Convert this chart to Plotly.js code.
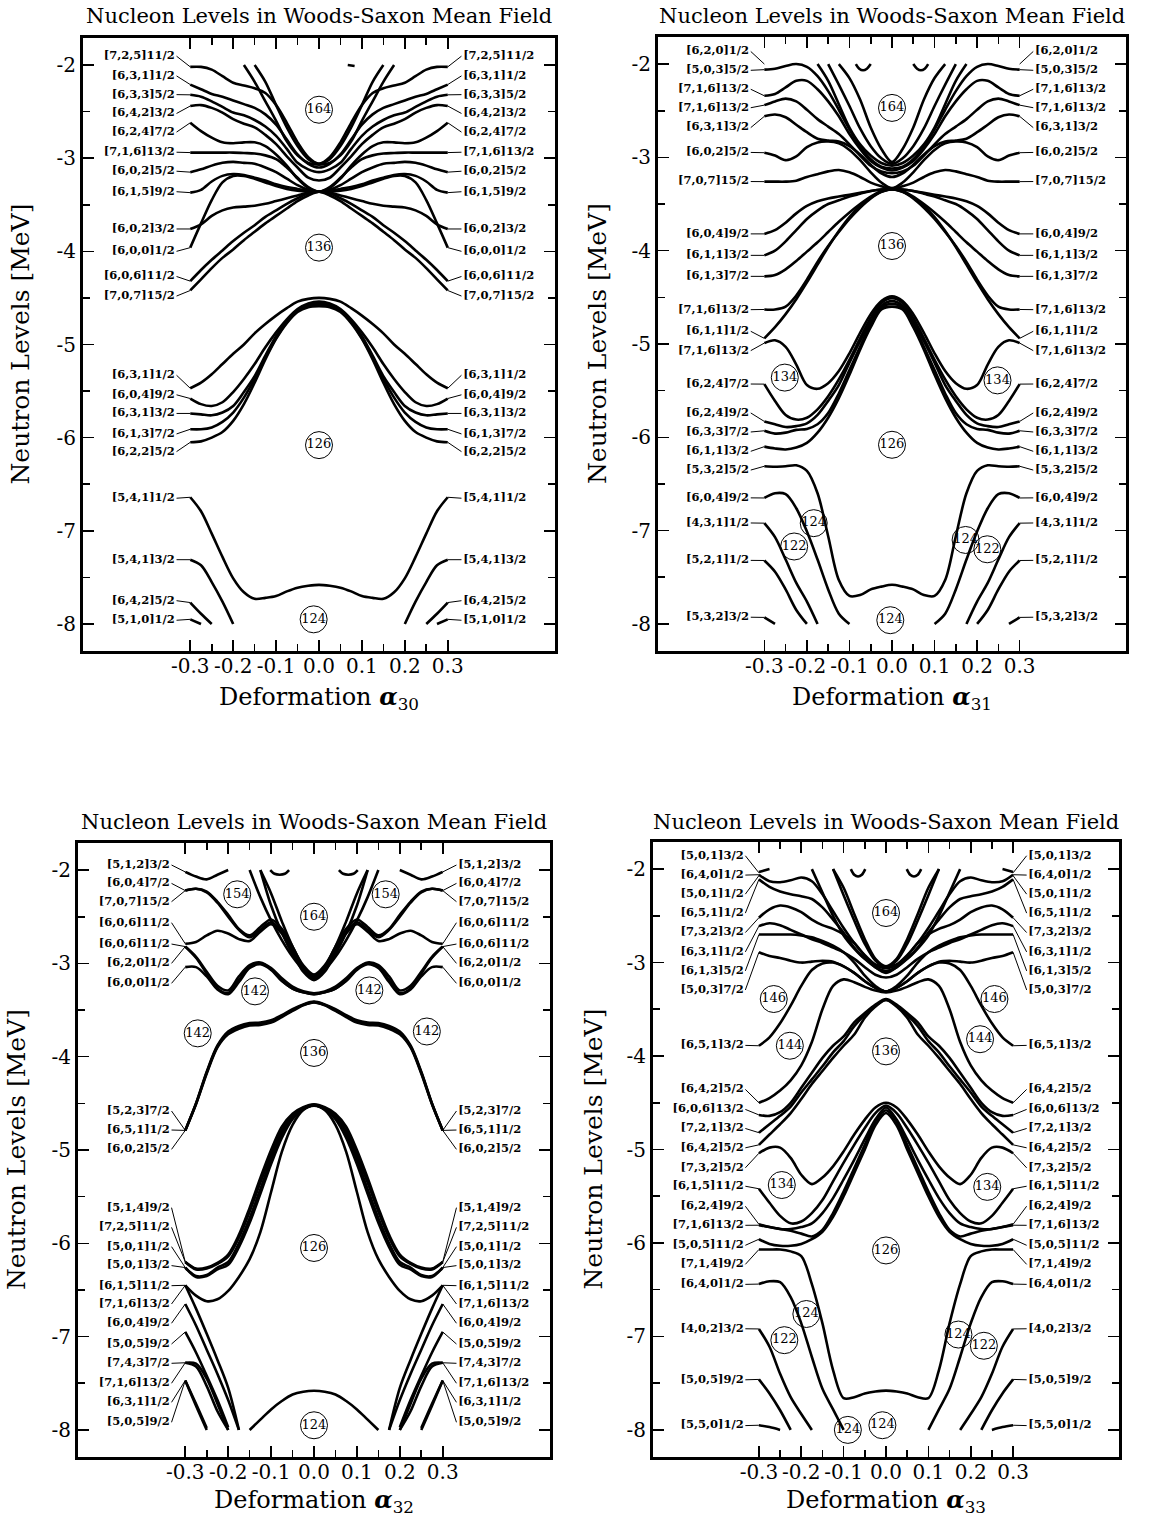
<!DOCTYPE html>
<html>
<head>
<meta charset="utf-8">
<script src="https://cdn.plot.ly/plotly-3.0.1.min.js"></script>
<style>
html,body{margin:0;padding:0;background:#fff;}
#chart{width:1150px;height:1519px;}
</style>
</head>
<body>
<div id="chart"></div>
<script>
// Single-particle neutron levels vs. octupole deformation.
// Levels are even in alpha, so each level is tabulated on the half grid [-0.3 .. 0]
// and reflected to positive alpha when drawn.
const GRID = [-0.3,-0.275,-0.25,-0.225,-0.2,-0.175,-0.15,-0.125,-0.1,-0.075,-0.05,-0.025,0];
const _ = null;

// ---------- alpha_30 ----------
const a30Levels = [
  [-2.02,-2.02,-2.05,-2.12,-2.19,-2.22,-2.25,-2.30,-2.43,-2.62,-2.83,-2.99,-3.06],
  [-2.21,-2.26,-2.31,-2.34,-2.38,-2.42,-2.46,-2.53,-2.64,-2.80,-2.96,-3.06,-3.10],
  [-2.32,-2.34,-2.39,-2.45,-2.51,-2.54,-2.59,-2.66,-2.76,-2.90,-3.05,-3.12,-3.15],
  [-2.44,-2.43,-2.46,-2.51,-2.58,-2.63,-2.67,-2.75,-2.85,-2.98,-3.10,-3.21,-3.24],
  [-2.62,-2.71,-2.78,-2.83,-2.84,-2.83,-2.83,-2.87,-2.96,-3.08,-3.22,-3.32,-3.36],
  [-2.94,-2.94,-2.94,-2.94,-2.94,-2.945,-2.95,-2.97,-3.01,-3.10,-3.21,-3.31,-3.36],
  [-3.15,-3.12,-3.08,-3.05,-3.04,-3.05,-3.06,-3.10,-3.15,-3.22,-3.29,-3.34,-3.36],
  [-3.37,-3.34,-3.25,-3.19,-3.17,-3.18,-3.21,-3.24,-3.28,-3.31,-3.33,-3.35,-3.36],
  [-3.76,-3.71,-3.62,-3.56,-3.53,-3.52,-3.51,-3.49,-3.46,-3.43,-3.40,-3.37,-3.36],
  [-3.96,-3.70,-3.45,-3.26,-3.19,-3.19,-3.22,-3.26,-3.30,-3.33,-3.35,-3.36,-3.36],
  [-4.32,-4.20,-4.09,-3.99,-3.89,-3.80,-3.72,-3.63,-3.56,-3.49,-3.43,-3.38,-3.36],
  [-4.42,-4.30,-4.18,-4.07,-3.98,-3.88,-3.79,-3.70,-3.62,-3.54,-3.46,-3.40,-3.36],
  [_,_,_,_,_,-2.00,-2.18,-2.39,-2.60,-2.82,-2.97,-3.05,-3.07],
  [_,_,_,_,_,_,-2.00,-2.18,-2.43,-2.67,-2.87,-3.01,-3.06],
  [-5.47,-5.41,-5.32,-5.21,-5.10,-5.00,-4.88,-4.78,-4.69,-4.61,-4.54,-4.51,-4.50],
  [-5.58,-5.64,-5.66,-5.62,-5.51,-5.37,-5.21,-5.03,-4.87,-4.73,-4.62,-4.56,-4.54],
  [-5.74,-5.75,-5.76,-5.73,-5.66,-5.51,-5.34,-5.12,-4.91,-4.75,-4.63,-4.57,-4.56],
  [-5.91,-5.91,-5.89,-5.83,-5.73,-5.57,-5.37,-5.14,-4.93,-4.76,-4.64,-4.59,-4.57],
  [-6.05,-6.04,-6.00,-5.94,-5.82,-5.64,-5.41,-5.16,-4.94,-4.77,-4.65,-4.60,-4.59],
  [-6.64,-6.79,-7.03,-7.28,-7.51,-7.66,-7.73,-7.72,-7.70,-7.65,-7.61,-7.59,-7.58],
  [-7.31,-7.37,-7.55,-7.76,-8.00,_,_,_,_,_,_,_,_],
  [-7.77,-7.89,-8.00,_,_,_,_,_,_,_,_,_,_],
  [-7.95,-8.00,_,_,_,_,_,_,_,_,_,_,_]
];
const a30Names = ['[7,2,5]11/2','[6,3,1]1/2','[6,3,3]5/2','[6,4,2]3/2','[6,2,4]7/2','[7,1,6]13/2','[6,0,2]5/2','[6,1,5]9/2','[6,0,2]3/2','[6,0,0]1/2','[6,0,6]11/2','[7,0,7]15/2','[6,3,1]1/2','[6,0,4]9/2','[6,3,1]3/2','[6,1,3]7/2','[6,2,2]5/2','[5,4,1]1/2','[5,4,1]3/2','[6,4,2]5/2','[5,1,0]1/2'];
const a30NameY = [-1.905,-2.117,-2.318,-2.52,-2.72,-2.936,-3.14,-3.36,-3.76,-4.0,-4.27,-4.48,-5.33,-5.54,-5.74,-5.96,-6.15,-6.65,-7.31,-7.75,-7.96];
const a30EndY  = [-2.02,-2.21,-2.32,-2.44,-2.62,-2.94,-3.15,-3.37,-3.76,-3.96,-4.32,-4.42,-5.47,-5.58,-5.74,-5.91,-6.05,-6.64,-7.31,-7.77,-7.95];
const a30ShellN = ['164','136','126','124'];
const a30ShellX = [0,0,0,-0.0125];
const a30ShellY = [-2.48,-3.96,-6.08,-7.95];
const a30BitsX = [[0.067,0.075,0.083]];
const a30BitsY = [[-2.0,-2.005,-2.01]];

// ---------- alpha_31 ----------
const a31Levels = [
  [-2.06,-2.05,-2.02,-2.00,-2.03,-2.13,-2.29,-2.49,-2.70,-2.88,-3.02,-3.10,-3.12],
  [-2.34,-2.32,-2.25,-2.18,-2.18,-2.27,-2.40,-2.56,-2.75,-2.91,-3.04,-3.11,-3.14],
  [-2.44,-2.40,-2.37,-2.40,-2.49,-2.59,-2.67,-2.75,-2.86,-2.98,-3.09,-3.15,-3.17],
  [-2.56,-2.54,-2.57,-2.65,-2.73,-2.80,-2.82,-2.83,-2.88,-2.97,-3.08,-3.17,-3.21],
  [-2.95,-2.98,-3.03,-2.99,-2.89,-2.84,-2.83,-2.85,-2.92,-3.03,-3.16,-3.27,-3.33],
  [-3.26,-3.26,-3.26,-3.25,-3.21,-3.18,-3.15,-3.135,-3.16,-3.21,-3.27,-3.31,-3.34],
  [-3.82,-3.78,-3.70,-3.60,-3.52,-3.47,-3.44,-3.42,-3.40,-3.38,-3.36,-3.345,-3.34],
  [-4.05,-4.00,-3.90,-3.78,-3.66,-3.57,-3.50,-3.46,-3.42,-3.39,-3.36,-3.345,-3.34],
  [-4.275,-4.26,-4.20,-4.11,-4.01,-3.91,-3.80,-3.69,-3.59,-3.50,-3.42,-3.36,-3.34],
  [-4.63,-4.63,-4.60,-4.48,-4.31,-4.12,-3.95,-3.80,-3.66,-3.54,-3.44,-3.37,-3.34],
  [-4.94,-4.82,-4.68,-4.52,-4.34,-4.15,-3.96,-3.79,-3.64,-3.52,-3.43,-3.37,-3.34],
  [_,_,_,_,_,-2.00,-2.18,-2.43,-2.68,-2.86,-2.98,-3.06,-3.09],
  [_,_,_,_,_,_,-2.00,-2.22,-2.45,-2.69,-2.88,-3.01,-3.07],
  [_,_,_,_,_,_,_,-2.00,-2.15,-2.38,-2.68,-2.91,-3.05],
  [-4.99,-4.96,-5.03,-5.22,-5.44,-5.48,-5.42,-5.29,-5.10,-4.88,-4.68,-4.54,-4.49],
  [-5.43,-5.61,-5.76,-5.81,-5.79,-5.70,-5.56,-5.38,-5.17,-4.94,-4.72,-4.56,-4.51],
  [-5.83,-5.86,-5.89,-5.88,-5.85,-5.76,-5.61,-5.44,-5.20,-4.97,-4.76,-4.59,-4.54],
  [-5.93,-5.96,-5.95,-5.92,-5.91,-5.86,-5.74,-5.53,-5.28,-5.03,-4.79,-4.61,-4.57],
  [-6.10,-6.12,-6.13,-6.11,-6.06,-5.95,-5.79,-5.58,-5.33,-5.06,-4.82,-4.63,-4.60],
  [-6.31,-6.315,-6.31,-6.30,-6.36,-6.60,-7.06,-7.53,-7.70,-7.69,-7.63,-7.60,-7.58],
  [-6.65,-6.60,-6.61,-6.76,-7.01,-7.31,-7.63,-7.89,-8.00,_,_,_,_],
  [-6.92,-7.07,-7.31,-7.56,-7.76,-8.00,_,_,_,_,_,_,_],
  [-7.32,-7.44,-7.63,-7.85,-8.00,_,_,_,_,_,_,_,_],
  [-7.93,-8.00,_,_,_,_,_,_,_,_,_,_,_]
];
const a31Names = ['[6,2,0]1/2','[5,0,3]5/2','[7,1,6]13/2','[7,1,6]13/2','[6,3,1]3/2','[6,0,2]5/2','[7,0,7]15/2','[6,0,4]9/2','[6,1,1]3/2','[6,1,3]7/2','[7,1,6]13/2','[6,1,1]1/2','[7,1,6]13/2','[6,2,4]7/2','[6,2,4]9/2','[6,3,3]7/2','[6,1,1]3/2','[5,3,2]5/2','[6,0,4]9/2','[4,3,1]1/2','[5,2,1]1/2','[5,3,2]3/2'];
const a31NameY = [-1.865,-2.067,-2.27,-2.468,-2.681,-2.947,-3.259,-3.82,-4.05,-4.275,-4.632,-4.864,-5.071,-5.429,-5.739,-5.943,-6.15,-6.351,-6.649,-6.918,-7.319,-7.928];
const a31EndY  = [-2.0,-2.06,-2.34,-2.44,-2.56,-2.95,-3.26,-3.82,-4.05,-4.275,-4.63,-4.94,-4.99,-5.43,-5.83,-5.93,-6.10,-6.31,-6.65,-6.92,-7.32,-7.93];
const a31ShellN = ['164','136','134','134','126','124','122','124','122','124'];
const a31ShellX = [0,0,-0.252,0.248,0,-0.184,-0.23,0.173,0.224,-0.004];
const a31ShellY = [-2.47,-3.95,-5.36,-5.39,-6.08,-6.92,-7.17,-7.10,-7.20,-7.96];
const a31BitsX = [[-0.085,-0.077,-0.068,-0.059,-0.05],[0.05,0.059,0.068,0.077,0.085]];
const a31BitsY = [[-2.0,-2.05,-2.067,-2.05,-2.0],[-2.0,-2.05,-2.067,-2.05,-2.0]];

// ---------- alpha_32 ----------
const a32Levels = [
  [-2.02,-2.07,-2.10,-2.05,-2.00,_,_,_,_,_,_,_,_],
  [-2.22,-2.20,-2.23,-2.34,-2.48,-2.63,-2.70,-2.61,-2.53,-2.63,-2.82,-3.04,-3.16],
  [-2.22,-2.20,-2.24,-2.35,-2.50,-2.64,-2.72,-2.64,-2.56,-2.66,-2.86,-3.07,-3.17],
  [-2.79,-2.77,-2.70,-2.65,-2.68,-2.74,-2.76,-2.66,-2.58,-2.68,-2.88,-3.09,-3.18],
  [-2.82,-2.93,-3.09,-3.24,-3.29,-3.14,-3.02,-2.99,-3.05,-3.16,-3.25,-3.30,-3.32],
  [-2.82,-2.94,-3.11,-3.27,-3.32,-3.18,-3.04,-3.00,-3.06,-3.18,-3.27,-3.31,-3.33],
  [-3.04,-3.04,-3.14,-3.28,-3.33,-3.20,-3.05,-3.01,-3.07,-3.19,-3.27,-3.31,-3.33],
  [_,_,_,_,_,_,-2.00,-2.29,-2.54,-2.75,-2.93,-3.07,-3.14],
  [_,_,_,_,_,_,_,-2.00,-2.38,-2.67,-2.90,-3.05,-3.13],
  [_,_,_,_,_,_,_,-2.00,-2.25,-2.55,-2.82,-3.02,-3.12],
  [-4.79,-4.50,-4.16,-3.88,-3.73,-3.67,-3.64,-3.635,-3.61,-3.555,-3.49,-3.44,-3.41],
  [-4.79,-4.51,-4.18,-3.90,-3.76,-3.70,-3.665,-3.66,-3.635,-3.575,-3.51,-3.45,-3.42],
  [-4.79,-4.505,-4.17,-3.89,-3.745,-3.685,-3.65,-3.645,-3.62,-3.565,-3.50,-3.445,-3.415],
  [-6.20,-6.27,-6.26,-6.21,-6.12,-5.91,-5.62,-5.30,-5.00,-4.75,-4.61,-4.54,-4.51],
  [-6.20,-6.28,-6.27,-6.22,-6.14,-5.94,-5.66,-5.35,-5.05,-4.79,-4.63,-4.55,-4.515],
  [-6.26,-6.35,-6.34,-6.26,-6.20,-6.00,-5.73,-5.42,-5.10,-4.83,-4.65,-4.56,-4.52],
  [-6.26,-6.36,-6.35,-6.28,-6.23,-6.04,-5.78,-5.47,-5.15,-4.87,-4.67,-4.565,-4.52],
  [-6.45,-6.56,-6.62,-6.60,-6.51,-6.36,-6.17,-5.88,-5.45,-5.02,-4.73,-4.57,-4.525],
  [-6.45,-6.70,-6.97,-7.25,-7.55,-8.00,_,_,_,_,_,_,_],
  [-6.65,-6.88,-7.14,-7.40,-7.68,-8.00,_,_,_,_,_,_,_],
  [-6.95,-7.17,-7.42,-7.68,-7.97,_,_,_,_,_,_,_,_],
  [-7.28,-7.29,-7.45,-7.72,-8.00,_,_,_,_,_,_,_,_],
  [-7.28,-7.32,-7.53,-7.80,-8.00,_,_,_,_,_,_,_,_],
  [-7.47,-7.72,-7.98,_,_,_,_,_,_,_,_,_,_],
  [-7.47,-7.74,-8.00,_,_,_,_,_,_,_,_,_,_],
  [_,_,_,_,_,_,-8.00,-7.89,-7.78,-7.69,-7.62,-7.59,-7.58]
];
const a32Names = ['[5,1,2]3/2','[6,0,4]7/2','[7,0,7]15/2','[6,0,6]11/2','[6,0,6]11/2','[6,2,0]1/2','[6,0,0]1/2','[5,2,3]7/2','[6,5,1]1/2','[6,0,2]5/2','[5,1,4]9/2','[7,2,5]11/2','[5,0,1]1/2','[5,0,1]3/2','[6,1,5]11/2','[7,1,6]13/2','[6,0,4]9/2','[5,0,5]9/2','[7,4,3]7/2','[7,1,6]13/2','[6,3,1]1/2','[5,0,5]9/2'];
const a32NameY = [-1.946,-2.143,-2.339,-2.564,-2.793,-3.0,-3.214,-4.582,-4.786,-4.993,-5.618,-5.829,-6.036,-6.239,-6.454,-6.65,-6.857,-7.079,-7.286,-7.5,-7.704,-7.918];
const a32EndY  = [-2.02,-2.22,-2.22,-2.79,-2.82,-2.82,-3.04,-4.79,-4.79,-4.79,-6.20,-6.20,-6.26,-6.26,-6.45,-6.45,-6.65,-6.95,-7.28,-7.28,-7.47,-7.47];
const a32ShellN = ['154','154','164','142','142','142','142','136','126','124'];
const a32ShellX = [-0.179,0.167,0,-0.1375,0.129,-0.271,0.263,0,0,0];
const a32ShellY = [-2.26,-2.26,-2.5,-3.30,-3.29,-3.75,-3.73,-3.96,-6.05,-7.95];
const a32BitsX = [[-0.102,-0.092,-0.08,-0.068,-0.058],[0.058,0.068,0.08,0.092,0.102]];
const a32BitsY = [[-2.0,-2.04,-2.05,-2.04,-2.0],[-2.0,-2.04,-2.05,-2.04,-2.0]];

// ---------- alpha_33 ----------
const a33Levels = [
  [-2.03,-2.00,_,_,_,_,_,_,_,_,_,_,_],
  [-2.06,-2.13,-2.14,-2.12,-2.09,-2.13,-2.27,-2.45,-2.63,-2.79,-2.92,-3.02,-3.05],
  [-2.11,-2.19,-2.24,-2.27,-2.29,-2.32,-2.41,-2.54,-2.68,-2.84,-2.96,-3.05,-3.09],
  [-2.52,-2.43,-2.39,-2.41,-2.46,-2.54,-2.60,-2.64,-2.70,-2.79,-2.93,-3.05,-3.11],
  [-2.61,-2.58,-2.60,-2.65,-2.70,-2.75,-2.79,-2.84,-2.89,-2.96,-3.05,-3.13,-3.16],
  [-2.70,-2.70,-2.70,-2.70,-2.71,-2.73,-2.77,-2.82,-2.89,-3.00,-3.14,-3.25,-3.31],
  [-2.89,-2.93,-2.95,-2.98,-3.00,-2.99,-2.98,-2.99,-3.04,-3.11,-3.20,-3.27,-3.31],
  [-3.89,-3.80,-3.65,-3.46,-3.25,-3.08,-3.01,-3.00,-3.04,-3.11,-3.20,-3.27,-3.31],
  [-4.50,-4.45,-4.37,-4.26,-4.10,-3.85,-3.50,-3.25,-3.18,-3.21,-3.26,-3.30,-3.32],
  [_,_,_,_,_,-2.00,-2.25,-2.50,-2.71,-2.85,-2.96,-3.03,-3.06],
  [_,_,_,_,_,_,_,-2.00,-2.28,-2.55,-2.80,-2.98,-3.05],
  [_,_,_,_,_,_,_,-2.00,-2.20,-2.48,-2.75,-2.96,-3.04],
  [-4.63,-4.64,-4.60,-4.50,-4.34,-4.18,-4.02,-3.89,-3.79,-3.64,-3.54,-3.45,-3.39],
  [-4.82,-4.73,-4.64,-4.54,-4.39,-4.25,-4.11,-3.96,-3.84,-3.68,-3.56,-3.46,-3.40],
  [-4.95,-4.84,-4.73,-4.61,-4.46,-4.30,-4.16,-4.02,-3.89,-3.77,-3.59,-3.47,-3.40],
  [-5.04,-4.98,-4.98,-5.09,-5.27,-5.37,-5.30,-5.18,-5.02,-4.84,-4.68,-4.55,-4.50],
  [-5.42,-5.57,-5.71,-5.79,-5.77,-5.68,-5.54,-5.34,-5.14,-4.95,-4.77,-4.61,-4.53],
  [-5.80,-5.83,-5.85,-5.85,-5.83,-5.79,-5.68,-5.52,-5.32,-5.11,-4.89,-4.68,-4.55],
  [-5.81,-5.83,-5.85,-5.87,-5.90,-5.93,-5.86,-5.68,-5.45,-5.20,-4.95,-4.70,-4.58],
  [-5.96,-6.01,-6.03,-6.03,-6.01,-5.96,-5.88,-5.72,-5.50,-5.25,-5.00,-4.74,-4.61],
  [-6.07,-6.07,-6.07,-6.09,-6.14,-6.44,-6.86,-7.36,-7.66,-7.65,-7.61,-7.59,-7.58],
  [-6.44,-6.41,-6.42,-6.58,-6.86,-7.22,-7.56,-7.78,-8.00,_,_,_,_],
  [-6.92,-7.11,-7.40,-7.65,-7.83,-8.00,_,_,_,_,_,_,_],
  [-7.46,-7.61,-7.79,-8.00,_,_,_,_,_,_,_,_,_],
  [-7.95,-7.97,-8.00,_,_,_,_,_,_,_,_,_,_]
];
const a33Names = ['[5,0,1]3/2','[6,4,0]1/2','[5,0,1]1/2','[6,5,1]1/2','[7,3,2]3/2','[6,3,1]1/2','[6,1,3]5/2','[5,0,3]7/2','[6,5,1]3/2','[6,4,2]5/2','[6,0,6]13/2','[7,2,1]3/2','[6,4,2]5/2','[7,3,2]5/2','[6,1,5]11/2','[6,2,4]9/2','[7,1,6]13/2','[5,0,5]11/2','[7,1,4]9/2','[6,4,0]1/2','[4,0,2]3/2','[5,0,5]9/2','[5,5,0]1/2'];
const a33NameY = [-1.857,-2.064,-2.268,-2.471,-2.679,-2.886,-3.089,-3.293,-3.886,-4.357,-4.571,-4.775,-4.982,-5.196,-5.393,-5.607,-5.811,-6.025,-6.229,-6.443,-6.918,-7.464,-7.954];
const a33EndY  = [-2.04,-2.06,-2.07,-2.11,-2.52,-2.61,-2.70,-2.89,-3.89,-4.50,-4.63,-4.82,-4.95,-5.04,-5.42,-5.80,-5.81,-5.96,-6.07,-6.44,-6.92,-7.46,-7.95];
const a33ShellN = ['164','146','146','144','144','136','134','134','126','124','122','124','122','124','124'];
const a33ShellX = [0,-0.265,0.256,-0.227,0.222,0,-0.246,0.239,0,-0.188,-0.24,0.171,0.231,-0.09,-0.0085];
const a33ShellY = [-2.47,-3.39,-3.39,-3.89,-3.82,-3.95,-5.38,-5.40,-6.08,-6.76,-7.04,-6.98,-7.10,-8.0,-7.95];
const a33BitsX = [[-0.083,-0.075,-0.066,-0.057,-0.049],[0.049,0.057,0.066,0.075,0.083]];
const a33BitsY = [[-2.0,-2.06,-2.079,-2.06,-2.0],[-2.0,-2.06,-2.079,-2.06,-2.0]];

// axis ticks
const xTickVals = [-0.3,-0.2,-0.1,0,0.1,0.2,0.3];
const xTickText = ['-0.3','-0.2','-0.1','0.0','0.1','0.2','0.3'];
const xMinorVals = [-0.25,-0.15,-0.05,0.05,0.15,0.25];
const yTickVals = [-8,-7,-6,-5,-4,-3,-2];
const yTickText = ['-8','-7','-6','-5','-4','-3','-2'];
const yMinorVals = [-7.5,-6.5,-5.5,-4.5,-3.5,-2.5];

// ---------- drawing ----------
const W = 1150, H = 1519;
const SERIF = 'DejaVu Serif';
const INK = '#000000';
const LABEL_X = 0.336, LEAD_X = 0.332, EDGE_X = 0.3;

const panels = [
  {levels:a30Levels, names:a30Names, nameY:a30NameY, endY:a30EndY, shellN:a30ShellN, shellX:a30ShellX, shellY:a30ShellY, bitsX:a30BitsX, bitsY:a30BitsY, sub:'30', box:[83,555,38,651], titleY:16, xlabY:698, ylabX:20},
  {levels:a31Levels, names:a31Names, nameY:a31NameY, endY:a31EndY, shellN:a31ShellN, shellX:a31ShellX, shellY:a31ShellY, bitsX:a31BitsX, bitsY:a31BitsY, sub:'31', box:[658,1126,37,651], titleY:16, xlabY:698, ylabX:597},
  {levels:a32Levels, names:a32Names, nameY:a32NameY, endY:a32EndY, shellN:a32ShellN, shellX:a32ShellX, shellY:a32ShellY, bitsX:a32BitsX, bitsY:a32BitsY, sub:'32', box:[78,550,843,1457], titleY:822, xlabY:1501, ylabX:16},
  {levels:a33Levels, names:a33Names, nameY:a33NameY, endY:a33EndY, shellN:a33ShellN, shellX:a33ShellX, shellY:a33ShellY, bitsX:a33BitsX, bitsY:a33BitsY, sub:'33', box:[653,1119,842,1457], titleY:822, xlabY:1501, ylabX:593}
];

function reflect(half) {
  const xs = GRID.concat(GRID.slice(0, -1).reverse().map(v => -v));
  const ys = half.concat(half.slice(0, -1).reverse());
  return {xs, ys};
}

const traces = [];
const layout = {
  width: W, height: H,
  margin: {l:0, r:0, t:0, b:0},
  paper_bgcolor: '#ffffff', plot_bgcolor: '#ffffff',
  showlegend: false,
  annotations: []
};

panels.forEach((p, i) => {
  const n = i === 0 ? '' : String(i + 1);
  const xa = 'x' + n, ya = 'y' + n;
  const [left, right, top, bottom] = p.box;

  layout['xaxis' + n] = {
    domain: [left / W, right / W], anchor: ya,
    range: [-0.55, 0.55], fixedrange: true,
    tickmode: 'array', tickvals: xTickVals, ticktext: xTickText,
    ticks: 'inside', ticklen: 11, tickwidth: 1.6, tickcolor: INK,
    minor: {tickmode: 'array', tickvals: xMinorVals, ticks: 'inside', ticklen: 7, tickwidth: 1.6, tickcolor: INK, showgrid: false},
    showline: true, linewidth: 3, linecolor: INK, mirror: 'allticks',
    showgrid: false, zeroline: false, ticklabelstandoff: -5,
    tickfont: {family: SERIF, size: 20, color: INK}
  };
  layout['yaxis' + n] = {
    domain: [1 - bottom / H, 1 - top / H], anchor: xa,
    range: [-8.29, -1.71], fixedrange: true,
    tickmode: 'array', tickvals: yTickVals, ticktext: yTickText,
    ticks: 'inside', ticklen: 11, tickwidth: 1.6, tickcolor: INK,
    minor: {tickmode: 'array', tickvals: yMinorVals, ticks: 'inside', ticklen: 7, tickwidth: 1.6, tickcolor: INK, showgrid: false},
    showline: true, linewidth: 3, linecolor: INK, mirror: 'allticks',
    showgrid: false, zeroline: false,
    tickfont: {family: SERIF, size: 20, color: INK}
  };

  // level curves
  p.levels.forEach(half => {
    const c = reflect(half);
    traces.push({type: 'scatter', mode: 'lines', x: c.xs, y: c.ys, xaxis: xa, yaxis: ya,
      line: {color: INK, width: 2.6, shape: 'spline', smoothing: 0.9}, connectgaps: false, hoverinfo: 'skip'});
  });
  // short pieces that touch the upper edge of the window
  p.bitsX.forEach((bx, k) => {
    traces.push({type: 'scatter', mode: 'lines', x: bx, y: p.bitsY[k], xaxis: xa, yaxis: ya,
      line: {color: INK, width: 2.6, shape: 'spline', smoothing: 0.9}, hoverinfo: 'skip'});
  });

  // leader lines from the Nilsson labels to the level ends
  const lx = [], ly = [];
  p.nameY.forEach((yl, k) => {
    lx.push(-LEAD_X, -EDGE_X, null, LEAD_X, EDGE_X, null);
    ly.push(yl, p.endY[k], null, yl, p.endY[k], null);
  });
  traces.push({type: 'scatter', mode: 'lines', x: lx, y: ly, xaxis: xa, yaxis: ya,
    line: {color: INK, width: 1}, hoverinfo: 'skip'});

  // Nilsson labels on both sides
  const labelFont = {family: SERIF, size: 11.5, color: INK};
  const bold = p.names.map(s => '<b>' + s + '</b>');
  traces.push({type: 'scatter', mode: 'text', x: p.nameY.map(() => -LABEL_X), y: p.nameY, text: bold,
    textposition: 'middle left', textfont: labelFont, xaxis: xa, yaxis: ya, hoverinfo: 'skip', cliponaxis: false});
  traces.push({type: 'scatter', mode: 'text', x: p.nameY.map(() => LABEL_X), y: p.nameY, text: bold,
    textposition: 'middle right', textfont: labelFont, xaxis: xa, yaxis: ya, hoverinfo: 'skip', cliponaxis: false});

  // circled shell-closure particle numbers
  traces.push({type: 'scatter', mode: 'markers+text', x: p.shellX, y: p.shellY, text: p.shellN,
    textposition: 'middle center', textfont: {family: SERIF, size: 13, color: INK},
    marker: {symbol: 'circle-open', size: 27, color: INK, line: {width: 1, color: INK}},
    xaxis: xa, yaxis: ya, hoverinfo: 'skip', cliponaxis: false});

  const cx = (left + right) / 2 / W;
  layout.annotations.push({text: 'Nucleon Levels in Woods-Saxon Mean Field', xref: 'paper', yref: 'paper',
    x: cx, y: 1 - p.titleY / H, xanchor: 'center', yanchor: 'middle', showarrow: false,
    font: {family: SERIF, size: 21, color: INK}});
  layout.annotations.push({text: 'Deformation <b><i>α</i></b><sub>' + p.sub + '</sub>', xref: 'paper', yref: 'paper',
    x: cx, y: 1 - p.xlabY / H, xanchor: 'center', yanchor: 'middle', showarrow: false,
    font: {family: SERIF, size: 24, color: INK}});
  layout.annotations.push({text: 'Neutron Levels [MeV]', xref: 'paper', yref: 'paper', textangle: -90,
    x: p.ylabX / W, y: 1 - (top + bottom) / 2 / H, xanchor: 'center', yanchor: 'middle', showarrow: false,
    font: {family: SERIF, size: 25, color: INK}});
});

Plotly.newPlot('chart', traces, layout, {staticPlot: true, displayModeBar: false});
</script>
</body>
</html>
